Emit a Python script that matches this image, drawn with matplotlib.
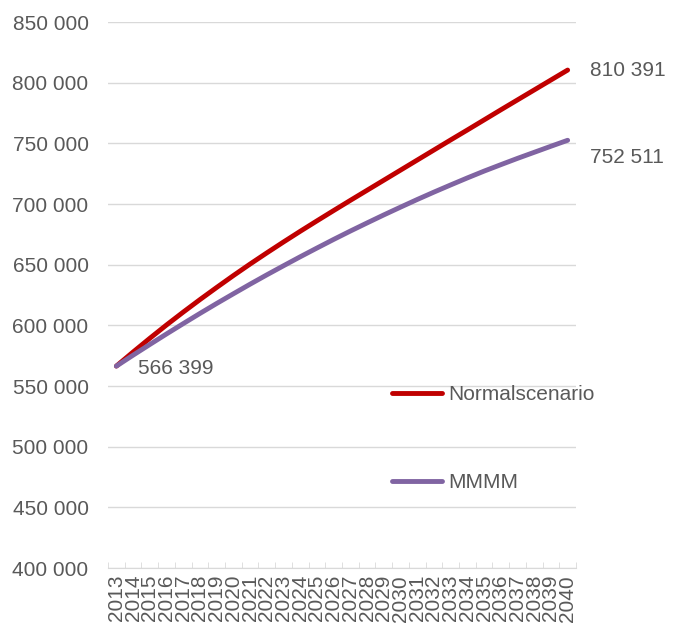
import numpy as np
import matplotlib
matplotlib.use("Agg")
import matplotlib.pyplot as plt
from matplotlib.ticker import FuncFormatter, MultipleLocator

plt.rcParams['font.family'] = ['Liberation Sans', 'DejaVu Sans']

years = list(range(2013, 2041))
normal = [566399, 578000, 589300, 600300, 610900, 621200, 631200, 641000,
          650500, 659700, 668700, 677500, 686100, 694600, 703000, 711300,
          719600, 727900, 736200, 744500, 752800, 761000, 769300, 777600,
          785800, 794000, 802200, 810391]
mmmm = [566399, 575400, 584200, 592900, 601400, 609800, 618000, 626000,
        633900, 641600, 649100, 656500, 663700, 670800, 677700, 684400,
        691000, 697400, 703700, 709800, 715700, 721500, 727100, 732400,
        737600, 742600, 747600, 752511]
labels = ["Normalscenario", "MMMM"]

txt = '#595959'
grid = '#d9d9d9'

fig = plt.figure(figsize=(6.82, 6.28), dpi=100)
ax = fig.add_axes([108/682, 1 - 568/628, (576 - 108)/682, (568 - 22)/628])

ax.plot(years, normal, color='#c00000', lw=3.5, solid_capstyle='round', label=labels[0])
ax.plot(years, mmmm, color='#8064a2', lw=3.5, solid_capstyle='round', label=labels[1])

ax.set_xlim(years[0] - 0.5, years[-1] + 0.5)
ax.set_ylim(400000, 850000)
ax.yaxis.set_major_locator(MultipleLocator(50000))
ax.yaxis.set_major_formatter(FuncFormatter(lambda v, p: f"{int(v):,}".replace(",", " ")))
ax.grid(axis='y', color=grid, lw=1)
ax.set_axisbelow(True)

ax.set_xticks(years)
ax.set_xticklabels([str(y) for y in years], rotation=90)
ax.set_xticks(np.arange(years[0] - 0.5, years[-1] + 1), minor=True)
ax.tick_params(axis='x', which='major', length=0, pad=5, labelsize=15, labelcolor=txt)
ax.tick_params(axis='x', which='minor', length=4, direction='in', color=grid)
ax.tick_params(axis='y', length=0, pad=14, labelsize=15, labelcolor=txt)

for s in ['top', 'right', 'left']:
    ax.spines[s].set_visible(False)
ax.spines['bottom'].set_color(grid)

ax.annotate(f"{normal[0]:,}".replace(",", " "), (years[0], normal[0]),
            xytext=(22, -2), textcoords='offset pixels', va='center', ha='left',
            fontsize=15, color=txt)
ax.annotate(f"{normal[-1]:,}".replace(",", " "), (years[-1], normal[-1]),
            xytext=(22, 0), textcoords='offset pixels', va='center', ha='left',
            fontsize=15, color=txt, annotation_clip=False)
ax.annotate(f"{mmmm[-1]:,}".replace(",", " "), (years[-1], mmmm[-1]),
            xytext=(22, -17), textcoords='offset pixels', va='center', ha='left',
            fontsize=15, color=txt, annotation_clip=False)

leg = fig.legend(loc='center left', bbox_to_anchor=(392/682, 1 - 438.5/628),
                 frameon=False, fontsize=15, handlelength=2.4, handletextpad=0.3,
                 labelspacing=3.3, borderpad=0, borderaxespad=0)
for t in leg.get_texts():
    t.set_color(txt)

fig.savefig("out.png", dpi=100)
